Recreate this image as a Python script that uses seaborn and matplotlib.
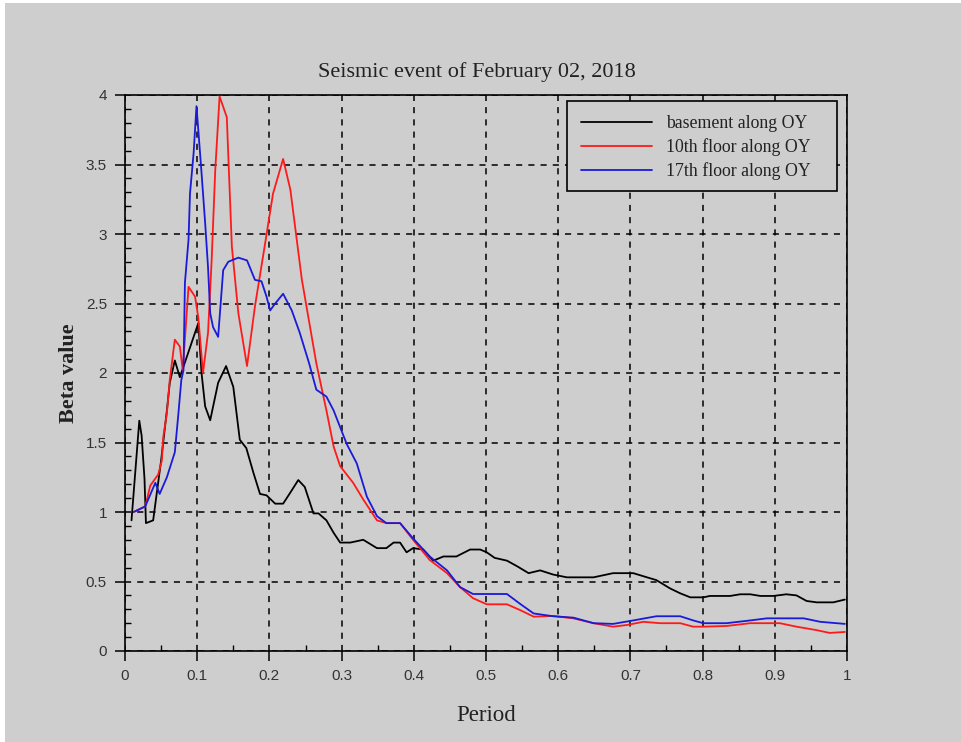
import numpy as np
import pandas as pd
import matplotlib
matplotlib.use("Agg")
import matplotlib.pyplot as plt
import seaborn as sns
from matplotlib.patches import Rectangle
from matplotlib.ticker import MultipleLocator

# ---- data ----
basement_x = [0.009, 0.0198, 0.023, 0.027, 0.029, 0.039, 0.05, 0.058, 0.062, 0.069,
              0.076, 0.1016, 0.106, 0.111, 0.118, 0.129, 0.14, 0.15, 0.159, 0.168,
              0.178, 0.187, 0.196, 0.208, 0.219, 0.229, 0.24, 0.249, 0.261, 0.268,
              0.279, 0.289, 0.298, 0.312, 0.33, 0.349, 0.362, 0.372, 0.381, 0.39,
              0.399, 0.413, 0.427, 0.441, 0.459, 0.478, 0.492, 0.501, 0.512, 0.529,
              0.543, 0.559, 0.575, 0.593, 0.612, 0.649, 0.676, 0.704, 0.723, 0.736,
              0.755, 0.769, 0.783, 0.801, 0.81, 0.838, 0.852, 0.866, 0.88, 0.898,
              0.916, 0.93, 0.944, 0.958, 0.981, 0.997]
basement_y = [0.94, 1.657, 1.55, 1.24, 0.92, 0.94, 1.37, 1.73, 1.93, 2.09,
              1.97, 2.36, 2.0, 1.76, 1.66, 1.93, 2.05, 1.9, 1.52, 1.46,
              1.28, 1.13, 1.12, 1.06, 1.06, 1.14, 1.23, 1.18, 0.99, 0.99,
              0.94, 0.85, 0.78, 0.78, 0.80, 0.74, 0.74, 0.78, 0.78, 0.71,
              0.74, 0.73, 0.65, 0.68, 0.68, 0.73, 0.73, 0.71, 0.67, 0.65,
              0.61, 0.56, 0.58, 0.55, 0.53, 0.53, 0.56, 0.56, 0.53, 0.51,
              0.45, 0.415, 0.386, 0.386, 0.396, 0.396, 0.408, 0.408, 0.396, 0.396,
              0.408, 0.40, 0.36, 0.35, 0.35, 0.37]

floor10_x = [0.012, 0.028, 0.035, 0.046, 0.051, 0.053, 0.058, 0.062, 0.069, 0.076,
             0.08, 0.088, 0.097, 0.1015, 0.108, 0.115, 0.12, 0.125, 0.131, 0.141,
             0.148, 0.157, 0.169, 0.18, 0.194, 0.205, 0.219, 0.229, 0.245, 0.265,
             0.279, 0.289, 0.298, 0.316, 0.33, 0.349, 0.362, 0.381, 0.399, 0.422,
             0.446, 0.464, 0.482, 0.501, 0.529, 0.547, 0.566, 0.593, 0.621, 0.649,
             0.676, 0.695, 0.718, 0.741, 0.769, 0.787, 0.801, 0.833, 0.866, 0.907,
             0.93, 0.958, 0.976, 0.997]
floor10_y = [1.0, 1.04, 1.19, 1.27, 1.37, 1.54, 1.71, 1.95, 2.24, 2.19,
             2.02, 2.62, 2.55, 2.40, 2.0, 2.29, 2.81, 3.46, 3.99, 3.84,
             2.91, 2.43, 2.05, 2.48, 2.93, 3.29, 3.54, 3.32, 2.67, 2.07,
             1.73, 1.47, 1.33, 1.21, 1.09, 0.94, 0.92, 0.92, 0.80, 0.655,
             0.56, 0.46, 0.38, 0.336, 0.336, 0.295, 0.247, 0.252, 0.235, 0.20,
             0.175, 0.187, 0.21, 0.20, 0.20, 0.175, 0.175, 0.18, 0.20, 0.20,
             0.175, 0.15, 0.13, 0.137]

floor17_x = [0.012, 0.028, 0.042, 0.048, 0.058, 0.069, 0.074, 0.078, 0.081, 0.083,
             0.088, 0.09, 0.095, 0.099, 0.1015, 0.106, 0.111, 0.115, 0.118, 0.122,
             0.129, 0.136, 0.143, 0.157, 0.169, 0.18, 0.189, 0.196, 0.201, 0.208,
             0.219, 0.231, 0.242, 0.255, 0.265, 0.279, 0.289, 0.307, 0.321, 0.335,
             0.349, 0.362, 0.381, 0.399, 0.422, 0.446, 0.464, 0.482, 0.529, 0.547,
             0.566, 0.593, 0.621, 0.649, 0.676, 0.704, 0.736, 0.769, 0.787, 0.801,
             0.833, 0.866, 0.889, 0.94, 0.963, 0.997]
floor17_y = [1.0, 1.04, 1.21, 1.13, 1.25, 1.43, 1.71, 1.95, 2.02, 2.65,
             2.96, 3.29, 3.58, 3.92, 3.75, 3.44, 3.08, 2.76, 2.43, 2.33,
             2.26, 2.74, 2.80, 2.83, 2.81, 2.67, 2.66, 2.55, 2.45, 2.50,
             2.57, 2.45, 2.29, 2.07, 1.88, 1.83, 1.73, 1.49, 1.35, 1.11,
             0.97, 0.92, 0.92, 0.81, 0.68, 0.58, 0.46, 0.41, 0.41, 0.34,
             0.27, 0.25, 0.24, 0.20, 0.195, 0.22, 0.25, 0.25, 0.22, 0.20,
             0.20, 0.22, 0.235, 0.235, 0.21, 0.195]

series_names = ["basement along OY", "10th floor along OY", "17th floor along OY"]
series_colors = ["#000000", "#ff1a1a", "#1a1ad9"]

title_text = "Seismic event of February 02, 2018"
x_label = "Period"
y_label = "Beta value"

df = pd.concat([
    pd.DataFrame({"Period": basement_x, "Beta": basement_y, "series": series_names[0]}),
    pd.DataFrame({"Period": floor10_x, "Beta": floor10_y, "series": series_names[1]}),
    pd.DataFrame({"Period": floor17_x, "Beta": floor17_y, "series": series_names[2]}),
], ignore_index=True)

sns.set_theme(style="white")
bg = "#cecece"
plt.rcParams["font.family"] = ["DejaVu Sans"]

fig = plt.figure(figsize=(9.62, 7.42), dpi=100, facecolor=bg)
ax = fig.add_axes([125 / 962, 1 - 651 / 742, (847 - 125) / 962, (651 - 95) / 742])
ax.set_facecolor(bg)

sns.lineplot(data=df, x="Period", y="Beta", hue="series", hue_order=series_names,
             palette=series_colors, estimator=None, sort=False, linewidth=1.3,
             ax=ax, legend=True)

ax.set_xlim(0, 1)
ax.set_ylim(0, 4)
ax.xaxis.set_major_locator(MultipleLocator(0.1))
ax.xaxis.set_minor_locator(MultipleLocator(0.05))
ax.yaxis.set_major_locator(MultipleLocator(0.5))
ax.yaxis.set_minor_locator(MultipleLocator(0.1))

def fmt(v, pos):
    return ("%.1f" % v).rstrip("0").rstrip(".")
ax.xaxis.set_major_formatter(plt.FuncFormatter(fmt))
ax.yaxis.set_major_formatter(plt.FuncFormatter(fmt))

ax.grid(True, which="major", color="black", linestyle=(0, (4, 4)), linewidth=1.1)
ax.set_axisbelow(True)

for sp in ax.spines.values():
    sp.set_visible(True)
    sp.set_color("black")
    sp.set_linewidth(1.2)

ax.tick_params(which="major", direction="out", length=7, width=1.1, color="black",
               labelsize=11, labelcolor="#333333", pad=6, bottom=True, left=True)
ax.tick_params(which="minor", direction="in", length=4, width=1.0, color="black",
               bottom=True, left=True)
for lab in ax.get_xticklabels() + ax.get_yticklabels():
    lab.set_family("Liberation Sans")

serif = "Liberation Serif"
ax.set_title(title_text, fontsize=16, family=serif, pad=13, color="#222222",
             x=(477 - 125) / 722)
ax.set_xlabel(x_label, fontsize=16.5, family=serif, labelpad=16, color="#222222")
ax.set_ylabel(y_label, fontsize=16, family=serif, labelpad=5, color="#222222",
              fontweight="bold")

# legend frame rectangle matching the reference box, then frameless legend on top
frame = Rectangle((567 / 962, 1 - 191 / 742), (837 - 567) / 962, 90 / 742,
                  transform=fig.transFigure, facecolor=bg, edgecolor="black",
                  linewidth=1.2, zorder=4, clip_on=False)
ax.add_patch(frame)
leg = ax.legend(loc="upper left", bbox_to_anchor=(567 / 962, 1 - 101 / 742),
                bbox_transform=fig.transFigure, frameon=False,
                prop={"family": serif, "size": 12.8}, handlelength=4.0,
                handletextpad=0.75, borderpad=0.8, labelspacing=0.34, borderaxespad=0)
leg.set_zorder(6)
for txt in leg.get_texts():
    txt.set_color("#222222")
for ln in leg.get_lines():
    ln.set_linewidth(1.3)

# thin white edge at left/top like the reference screenshot
fig.patches.append(Rectangle((0, 0), 5 / 962, 1, transform=fig.transFigure,
                             facecolor="white", edgecolor="none", zorder=-1))
fig.patches.append(Rectangle((0, 1 - 3 / 742), 1, 3 / 742, transform=fig.transFigure,
                             facecolor="white", edgecolor="none", zorder=-1))

fig.savefig("out.png", dpi=100, facecolor=bg)
